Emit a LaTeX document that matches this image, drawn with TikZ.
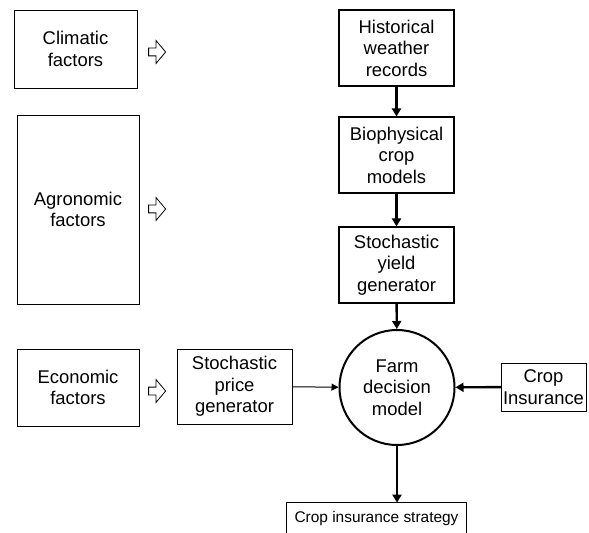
\documentclass[tikz,border=0pt]{standalone}
\usepackage{fontspec}
\setmainfont{Liberation Sans}
\usetikzlibrary{arrows.meta,shapes.arrows}

\begin{document}
\begin{tikzpicture}[x=1bp,y=-1bp,line cap=round,
  box/.style={draw,line width=0.8bp,align=center,inner sep=0pt,font=\fontsize{18.5}{21.5}\selectfont},
  flow/.style={line width=2.4bp,-{Triangle[length=8bp,width=9bp]}},
  link/.style={line width=1bp,-{Triangle[length=7bp,width=7bp]}},
  hollow/.style={draw,single arrow,minimum height=17bp,inner sep=3.5bp,
    single arrow head extend=7.5bp,single arrow tip angle=100,line width=0.8bp}]
\useasboundingbox (0,0) rectangle (589,533);
% factor boxes on the left
\node[box,minimum width=123bp,minimum height=78bp] (clim) at (75.5,49) {Climatic\\factors};
\node[box,minimum width=122bp,minimum height=189bp] (agro) at (78,209.5) {Agronomic\\factors};
\node[box,minimum width=122bp,minimum height=77bp] (econ) at (78,387.5) {Economic\\factors};
% hollow arrows
\node[hollow] (climarr) at (155.5,52) {};
\node[hollow] (agroarr) at (155.5,209) {};
\node[hollow] (econarr) at (155.5,391) {};
% model chain
\node[box,line width=1.1bp,minimum width=115bp,minimum height=76bp] (hist) at (396.5,48) {Historical\\weather\\records};
\node[box,line width=1.1bp,minimum width=115bp,minimum height=76bp] (bio) at (396.5,155) {Biophysical\\crop\\models};
\node[box,line width=1.1bp,minimum width=115bp,minimum height=76bp] (yield) at (396.5,265) {Stochastic\\yield\\generator};
\node[box,minimum width=115bp,minimum height=75bp] (price) at (234.5,386.5) {Stochastic\\price\\generator};
\node[box,circle,line width=2bp,minimum size=115bp] (farm) at (397,387.5) {Farm\\decision\\model};
\node[box,minimum width=85bp,minimum height=48bp] (ins) at (543.5,387) {Crop\\Insurance};
% output box, cut by the lower edge
\node[box,draw=none,font=\fontsize{15.5}{18}\selectfont,minimum width=179bp,minimum height=31bp] (strat) at (376.5,518.5) {Crop insurance strategy};
\draw[line width=1.4bp] (strat.south west) |- (strat.north east) -- (strat.south east);
% connectors
\draw[flow] (hist) -- (bio);
\draw[flow] (bio) -- (yield);
\draw[flow] (yield) -- (farm);
\draw[flow] (ins) -- (farm);
\draw[link] (price) -- (farm);
\draw[flow] (farm.south) -- (farm.south |- strat.north);
\end{tikzpicture}
\end{document}
